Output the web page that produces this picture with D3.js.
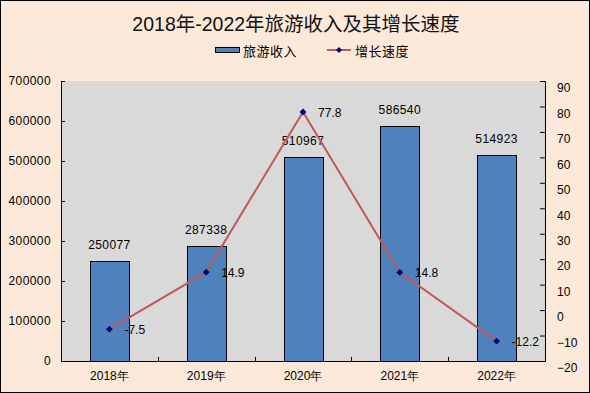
<!DOCTYPE html>
<html>
<head>
<meta charset="utf-8">
<script src="https://cdn.jsdelivr.net/npm/d3@7"></script>
<style>
  body { margin: 0; background: #fff; }
  svg { display: block; font-family: "Liberation Sans", "Noto Sans CJK SC", sans-serif; }
</style>
</head>
<body>
<svg width="590" height="393"></svg>
<script>
// chart data
const years = ["2018年", "2019年", "2020年", "2021年", "2022年"];
const income = [250077, 287338, 510967, 586540, 514923];
const growth = [-7.5, 14.9, 77.8, 14.8, -12.2];
const leftTicks = [0, 100000, 200000, 300000, 400000, 500000, 600000, 700000];
const rightTicks = [-20, -10, 0, 10, 20, 30, 40, 50, 60, 70, 80, 90];

const svg = d3.select("svg");
const width = +svg.attr("width");
const height = +svg.attr("height");

// background + border
svg.append("rect")
    .attr("x", 0.5).attr("y", 0.5)
    .attr("width", width - 1).attr("height", height - 1)
    .attr("fill", "#fde9d9")
    .attr("stroke", "#000");

const plot = { left: 61, right: 545, top: 81, bottom: 361 };

const x = d3.scaleBand().domain(years).range([plot.left, plot.right]);
const yL = d3.scaleLinear().domain([0, 700000]).range([plot.bottom, plot.top]);
const yR = d3.scaleLinear().domain([-20, 90]).range([plot.bottom, plot.top]);

// plot area
svg.append("rect")
    .attr("x", plot.left).attr("y", plot.top)
    .attr("width", plot.right - plot.left).attr("height", plot.bottom - plot.top)
    .attr("fill", "#d9d9d9");

// title
svg.append("text")
    .attr("x", 296).attr("y", 31)
    .attr("text-anchor", "middle")
    .attr("font-size", 19.5)
    .attr("fill", "#111")
    .text("2018年-2022年旅游收入及其增长速度");

// legend
const legend = svg.append("g").attr("font-size", 13).attr("fill", "#000");
legend.append("rect")
    .attr("x", 215.5).attr("y", 47.5).attr("width", 24).attr("height", 5)
    .attr("fill", "#4f81bd").attr("stroke", "#000");
legend.append("text").attr("x", 243).attr("y", 55.5).attr("letter-spacing", 0.5).text("旅游收入");
legend.append("line")
    .attr("x1", 327).attr("x2", 351).attr("y1", 50).attr("y2", 50)
    .attr("stroke", "#c0595a").attr("stroke-width", 2);
legend.append("path")
    .attr("transform", "translate(339,50)")
    .attr("d", d3.symbol(d3.symbolDiamond2, 22))
    .attr("fill", "#000080");
legend.append("text").attr("x", 355).attr("y", 55.5).attr("letter-spacing", 0.5).text("增长速度");

// bars
const barW = 39;
svg.append("g")
    .selectAll("rect")
    .data(income)
    .join("rect")
    .attr("x", (d, i) => Math.round(x(years[i]) + x.bandwidth() / 2 - barW / 2) + 0.5)
    .attr("y", d => Math.round(yL(d)) + 0.5)
    .attr("width", barW)
    .attr("height", d => plot.bottom - Math.round(yL(d)))
    .attr("fill", "#4f81bd")
    .attr("stroke", "#000");

// bar labels
svg.append("g")
    .attr("font-size", 12)
    .selectAll("text")
    .data(income)
    .join("text")
    .attr("x", (d, i) => x(years[i]) + x.bandwidth() / 2)
    .attr("y", d => yL(d) - 12)
    .attr("text-anchor", "middle")
    .attr("letter-spacing", 0.4)
    .attr("fill", "#000")
    .text(d => d);

// axes
const axL = svg.append("g")
    .attr("transform", `translate(${plot.left},0)`)
    .call(d3.axisLeft(yL).tickValues(leftTicks).tickSize(-4).tickPadding(10).tickFormat(d3.format("d")));
const axR = svg.append("g")
    .attr("transform", `translate(${plot.right},0)`)
    .call(d3.axisRight(yR).tickValues(rightTicks).tickSize(-5).tickPadding(12).tickFormat(d3.format("d")));
const axB = svg.append("g")
    .attr("transform", `translate(0,${plot.bottom})`)
    .call(d3.axisBottom(x).tickSize(0).tickPadding(10));

[axL, axR, axB].forEach(a => {
    a.select(".domain").attr("stroke", "#000");
    a.selectAll(".tick line").attr("stroke", "#000");
    a.selectAll("text").attr("font-family", null).attr("font-size", 12).attr("fill", "#000");
});
axL.selectAll("text").attr("letter-spacing", 0.4);
axR.selectAll("text").attr("dy", "0.9em");

// category separators on the x axis
svg.append("g")
    .selectAll("line")
    .data(years.slice(1))
    .join("line")
    .attr("x1", d => Math.round(x(d)) + 0.5)
    .attr("x2", d => Math.round(x(d)) + 0.5)
    .attr("y1", plot.bottom)
    .attr("y2", plot.bottom - 4)
    .attr("stroke", "#000");

// growth line
const line = d3.line()
    .x((d, i) => x(years[i]) + x.bandwidth() / 2)
    .y(d => yR(d));

svg.append("path")
    .datum(growth)
    .attr("d", line)
    .attr("fill", "none")
    .attr("stroke", "#c0595a")
    .attr("stroke-width", 2);

svg.append("g")
    .selectAll("path")
    .data(growth)
    .join("path")
    .attr("transform", (d, i) => `translate(${x(years[i]) + x.bandwidth() / 2},${yR(d)})`)
    .attr("d", d3.symbol(d3.symbolDiamond2, 30))
    .attr("fill", "#000080");

svg.append("g")
    .attr("font-size", 12)
    .selectAll("text")
    .data(growth)
    .join("text")
    .attr("x", (d, i) => x(years[i]) + x.bandwidth() / 2 + 15)
    .attr("y", d => yR(d) + 5)
    .attr("fill", "#000")
    .text(d => d);
</script>
</body>
</html>
